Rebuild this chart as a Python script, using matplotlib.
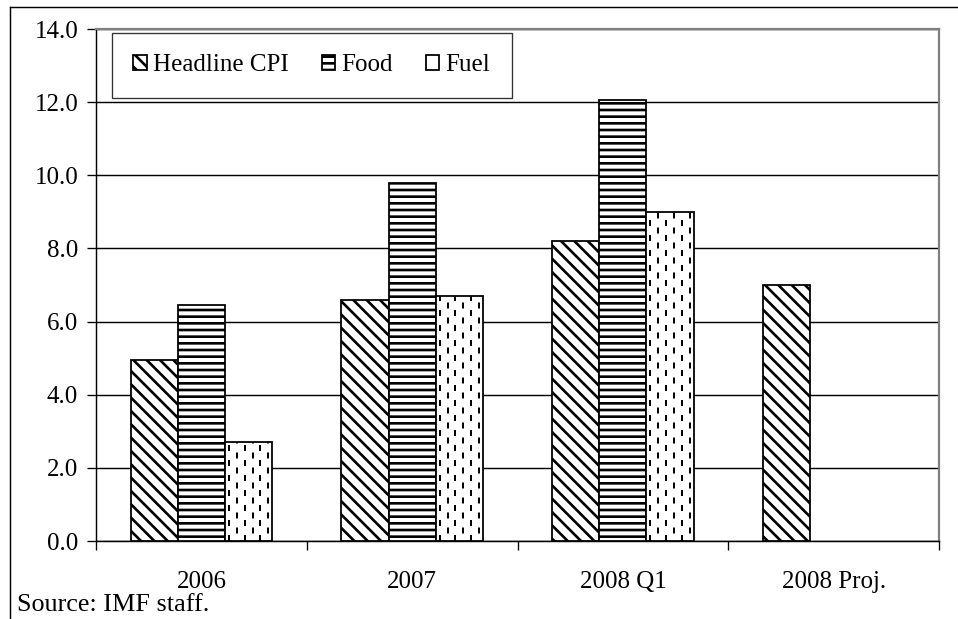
import matplotlib.pyplot as plt
import numpy as np
from matplotlib.lines import Line2D

# values (percent, y/y)
categories = ['2006', '2007', '2008 Q1', '2008 Proj.']
headline = [4.95, 6.6, 8.2, 7.0]
food = [6.45, 9.8, 12.05, np.nan]
fuel = [2.7, 6.7, 9.0, np.nan]
series_names = ['Headline CPI', 'Food', 'Fuel']

plt.rcParams['font.family'] = ['Liberation Serif', 'DejaVu Serif']
plt.rcParams['hatch.linewidth'] = 2.4
plt.rcParams['lines.scale_dashes'] = False

DPI = 80
FS = 22.5
fig = plt.figure(figsize=(958 / DPI, 619 / DPI), dpi=DPI)
ax = fig.add_axes([96 / 958, 1 - 541 / 619, (939 - 96) / 958, (541 - 29) / 619])

x = np.arange(len(categories))
w = 0.224

b1 = ax.bar(x - w, headline, w, color='white', edgecolor='black', linewidth=1.6,
            hatch='\\\\', zorder=3, label=series_names[0])
b2 = ax.bar(x, food, w, color='white', edgecolor='black', linewidth=1.6,
            hatch='--', zorder=3, label=series_names[1])
b3 = ax.bar(x + w, fuel, w, color='white', edgecolor='black', linewidth=1.6,
            zorder=3, label=series_names[2])

# dashed vertical fill for the fuel bars (no such built-in hatch)
on, off = 5.4, 8.1
for rect in b3.patches:
    h = rect.get_height()
    if not np.isfinite(h) or h <= 0:
        continue
    x0, bw = rect.get_x(), rect.get_width()
    for k in range(6):
        xc = x0 + bw * (k + 0.5) / 6
        offset = 0 if k % 2 == 0 else (on + off) / 2
        ln, = ax.plot([xc, xc], [0, h], color='black', lw=1.8,
                      linestyle=(offset, (on, off)), zorder=3.5)
        ln.set_clip_path(rect)

ax.set_ylim(0, 14)
ax.set_xlim(-0.5, len(categories) - 0.5)
ax.set_yticks(np.arange(0, 14.1, 2))
ax.set_yticklabels([f'{v:.1f}' for v in np.arange(0, 14.1, 2)])
ax.yaxis.grid(True, color='black', linewidth=1.3, zorder=0)
ax.set_axisbelow(True)

ax.set_xticks(x)
ax.set_xticklabels(categories)
ax.set_xticks(np.arange(-0.5, len(categories), 1), minor=True)
ax.tick_params(axis='x', which='major', length=0, pad=27, labelsize=FS)
ax.tick_params(axis='x', which='minor', length=8, width=1.2, direction='out')
ax.tick_params(axis='y', length=8, width=1.2, direction='out', pad=8, labelsize=FS)

for side in ['top', 'right']:
    ax.spines[side].set_color('#808080')
    ax.spines[side].set_linewidth(2)
for side in ['left', 'bottom']:
    ax.spines[side].set_color('black')
    ax.spines[side].set_linewidth(1.3)

leg = ax.legend(handles=[b1, b2, b3], loc='upper left', bbox_to_anchor=(0.019, 0.992),
                borderaxespad=0, ncol=3, fontsize=FS, frameon=True, fancybox=False,
                handlelength=0.55, handleheight=0.55, handletextpad=0.25,
                columnspacing=1.3, borderpad=0.85)
leg.get_frame().set_edgecolor('black')
leg.get_frame().set_linewidth(1.2)

fig.text(17 / 958, 1 - 605 / 619, 'Source: IMF staff.', fontsize=FS + 1, va='center', ha='left')

# outer frame around the figure (top and left edges)
fig.add_artist(Line2D([10 / 958, 1], [1 - 7 / 619, 1 - 7 / 619], color='black', lw=1.3,
                      transform=fig.transFigure))
fig.add_artist(Line2D([10 / 958, 10 / 958], [0, 1 - 7 / 619], color='black', lw=1.3,
                      transform=fig.transFigure))

fig.savefig('out.png', dpi=DPI)
